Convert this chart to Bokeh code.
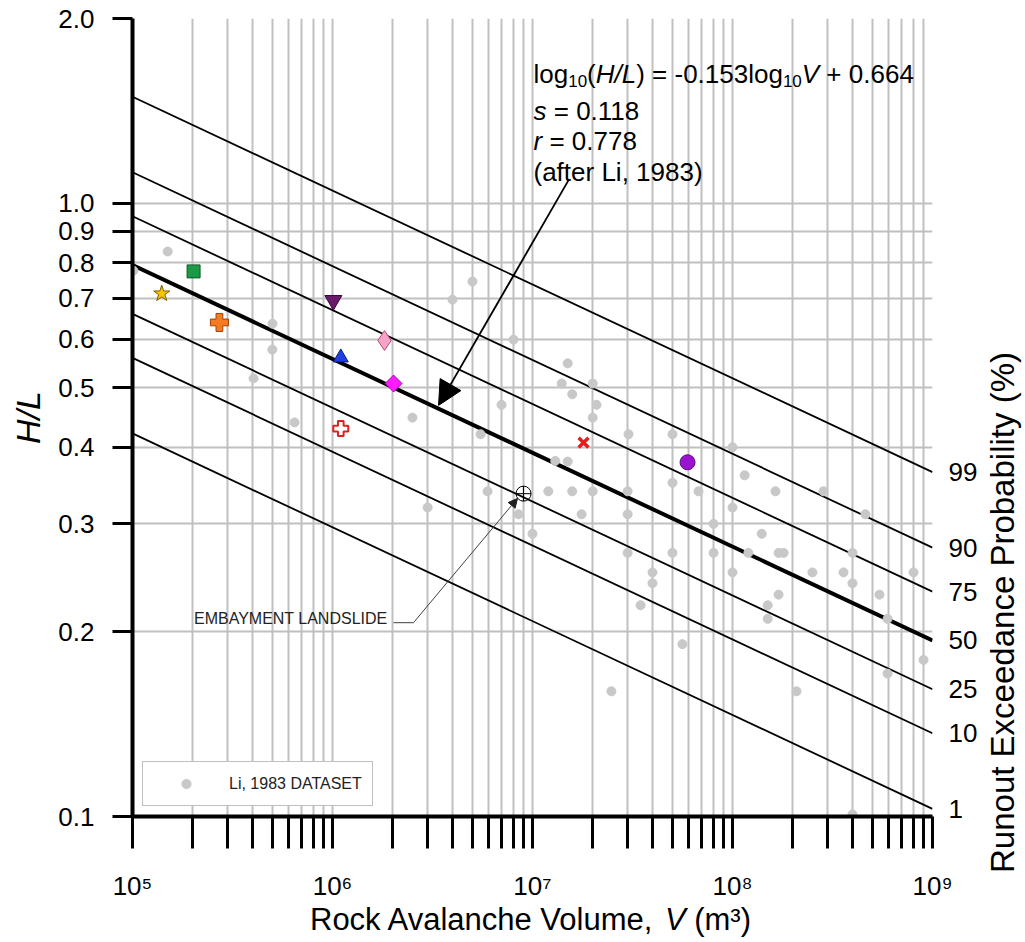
import math
from bokeh.plotting import figure
from bokeh.layouts import row, column
from bokeh.models import (Range1d, FixedTicker, LogAxis, PrintfTickFormatter,
                          CustomJSTickFormatter, Label, Arrow, NormalHead)
from bokeh.embed import file_html
from bokeh.resources import INLINE

FONT = "Liberation Sans"

# ---------------- data ----------------
# Regression line (after Li, 1983): log10(H/L) = SLOPE*log10(V) + INTERCEPT, s = STD_ERR
SLOPE = -0.153
INTERCEPT = 0.664
STD_ERR = 0.118
EXCEEDANCE_LABELS = ["99", "90", "75", "50", "25", "10", "1"]
Z_SCORES = [2.326, 1.282, 0.674, 0.0, -0.674, -1.282, -2.326]
V_LIMITS = [1e5, 1e9]

# Li (1983) dataset
LI_V = [1.01e5, 1.50e5, 5.01e5, 5.0e5, 4.03e5, 6.46e5, 2.51e6, 3.98e6, 5.01e6, 8.04e6,
        1.50e7, 1.40e7, 2.0e7, 1.58e7, 2.09e7, 7.0e6, 2.0e7, 5.50e6, 3.02e7, 5.01e7,
        1.30e7, 1.50e7, 5.01e7, 5.96e6, 1.20e7, 1.58e7, 2.0e7, 2.99e7, 6.76e7, 2.99e6,
        8.51e6, 1.76e7, 2.99e7, 1.64e8, 2.85e8, 1.0e8, 4.62e8, 1.0e7, 8.04e7, 1.40e8,
        2.99e7, 5.01e7, 8.04e7, 1.20e8, 1.70e8, 1.80e8, 3.98e8, 3.98e7, 1.0e8, 2.51e8,
        3.59e8, 8.04e8, 3.98e7, 3.98e8, 1.70e8, 5.43e8, 3.47e7, 1.50e8, 1.50e8, 5.96e8,
        5.62e7, 9.02e8, 5.96e8, 2.48e7, 2.09e8, 3.98e8, 1.0e8, 1.15e8]
LI_HL = [0.776, 0.834, 0.636, 0.577, 0.518, 0.439, 0.447, 0.696, 0.745, 0.599,
         0.548, 0.508, 0.508, 0.488, 0.469, 0.469, 0.447, 0.420, 0.420, 0.420,
         0.380, 0.379, 0.350, 0.339, 0.339, 0.339, 0.339, 0.339, 0.339, 0.319,
         0.311, 0.311, 0.311, 0.339, 0.339, 0.319, 0.311, 0.289, 0.300, 0.289,
         0.269, 0.269, 0.269, 0.269, 0.269, 0.269, 0.269, 0.250, 0.250, 0.250,
         0.250, 0.250, 0.240, 0.240, 0.230, 0.230, 0.221, 0.221, 0.210, 0.210,
         0.191, 0.180, 0.171, 0.160, 0.160, 0.1008, 0.400, 0.360]

# Individual case histories
CASE_IDS = ["star", "green", "orange", "purple_tri", "blue_tri", "pink", "magenta",
            "red_plus", "red_x", "purple_dot", "embayment"]
CASE_V = [1.40e5, 2.02e5, 2.72e5, 1.01e6, 1.10e6, 1.82e6, 2.02e6, 1.10e6, 1.80e7, 5.96e7, 9.02e6]
CASE_HL = [0.712, 0.774, 0.639, 0.694, 0.560, 0.597, 0.508, 0.429, 0.407, 0.378, 0.336]

X_TICKS = [1e5, 1e6, 1e7, 1e8, 1e9]
X_TICK_LABELS = ["10\u2075", "10\u2076", "10\u2077", "10\u2078", "10\u2079"]
X_MINOR = [m * 10 ** k for k in range(5, 9) for m in range(2, 10)]
Y_TICKS = [0.1, 0.2, 0.3, 0.4, 0.5, 0.6, 0.7, 0.8, 0.9, 1.0, 2.0]

# ---------------- styles ----------------
CASE_STYLE = {
    "star": dict(marker="star", size=17, fill_color="#f7c600", line_color="#7a5c00"),
    "green": dict(marker="square", size=13, fill_color="#1a9a46", line_color="#0b5a28"),
    "orange": dict(marker="plus", size=18, fill_color="#f47b20", line_color="#a0400a"),
    "purple_tri": dict(marker="inverted_triangle", size=17, fill_color="#6b1a6b", line_color="#3a003a"),
    "blue_tri": dict(marker="triangle", size=15, fill_color="#1f3fe0", line_color="#0a1a80"),
    "pink": dict(marker="diamond", size=20, fill_color="#f5a3c7", line_color="#b0507a"),
    "magenta": dict(marker="square", size=12, angle=math.pi / 4, fill_color="#ff1aff", line_color="#b000b0"),
    "red_plus": dict(marker="plus", size=15, fill_color="white", line_color="#e02020", line_width=2),
    "red_x": dict(marker="x", size=14, line_color="#e02020", line_width=3.5),
    "purple_dot": dict(marker="circle", size=15, fill_color="#9a14d0", line_color="#5a0a80"),
    "embayment": dict(marker="circle_cross", size=15, fill_color=None, line_color="black", line_width=1),
}

TOTAL_W, TOTAL_H = 1022, 940
TOP, LEFT, RIGHT, BOTTOM = 18, 132, 48, 86
FW, FH = 800, 798
P_W = LEFT + FW + RIGHT
P_H = TOP + FH + BOTTOM

p = figure(frame_width=FW, frame_height=FH, x_axis_type="log", y_axis_type="log",
           x_range=Range1d(1e5, 1e9), y_range=Range1d(0.1, 2.0),
           output_backend="svg", toolbar_location=None,
           min_border_left=LEFT, min_border_right=RIGHT, min_border_top=TOP, min_border_bottom=BOTTOM)
p.outline_line_color = None
p.background_fill_color = "white"

# axes
xa = p.xaxis[0]
xa.ticker = FixedTicker(ticks=X_TICKS, minor_ticks=X_MINOR)
xa.formatter = CustomJSTickFormatter(
    args=dict(vals=X_TICKS, labels=X_TICK_LABELS),
    code="let b=0; for (let i=0;i<vals.length;i++){ if (Math.abs(Math.log10(vals[i]/tick))<1e-6) b=i; } return labels[b];")
xa.axis_line_width = 4
xa.major_tick_out = 32
xa.major_tick_in = 0
xa.minor_tick_out = 32
xa.minor_tick_in = 0
xa.major_tick_line_width = 3
xa.minor_tick_line_width = 3
xa.major_label_standoff = 22
xa.major_label_text_font = FONT
xa.major_label_text_font_size = "26px"
xa.major_label_text_color = "black"

ya = p.yaxis[0]
ya.ticker = FixedTicker(ticks=Y_TICKS)
ya.formatter = PrintfTickFormatter(format="%.1f")
ya.axis_line_width = 4
ya.major_tick_out = 20
ya.major_tick_in = 0
ya.minor_tick_out = 0
ya.minor_tick_in = 0
ya.major_tick_line_width = 3
ya.major_label_standoff = 18
ya.major_label_text_font = FONT
ya.major_label_text_font_size = "26px"
ya.major_label_text_color = "black"
ya.axis_label = "H/L"
ya.axis_label_text_font = FONT
ya.axis_label_text_font_size = "34px"
ya.axis_label_text_font_style = "italic"
ya.axis_label_text_color = "black"
ya.axis_label_standoff = 8

# grid
p.xgrid.grid_line_color = "#c0c0c0"
p.xgrid.grid_line_width = 2
p.xgrid.minor_grid_line_color = "#c0c0c0"
p.xgrid.minor_grid_line_width = 2
p.ygrid.grid_line_color = "#c0c0c0"
p.ygrid.grid_line_width = 2

# probability lines
right_vals = []
for z, lab in zip(Z_SCORES, EXCEEDANCE_LABELS):
    ys = [10 ** (INTERCEPT + SLOPE * math.log10(v) + STD_ERR * z) for v in V_LIMITS]
    p.line(V_LIMITS, ys, line_color="black", line_width=4 if z == 0 else 1.8)
    right_vals.append((ys[1], lab))
right_vals.sort()
RIGHT_TICKS = [v for v, _ in right_vals]
RIGHT_LABELS = [l for _, l in right_vals]

ra = LogAxis(ticker=FixedTicker(ticks=RIGHT_TICKS),
             formatter=CustomJSTickFormatter(
                 args=dict(vals=RIGHT_TICKS, labels=RIGHT_LABELS),
                 code="let b=0, d=1e9; for (let i=0;i<vals.length;i++){ const e=Math.abs(vals[i]-tick); if (e<d){d=e;b=i;} } return labels[b];"))
ra.axis_line_color = None
ra.major_tick_line_color = None
ra.minor_tick_line_color = None
ra.major_label_standoff = 10
ra.major_label_text_font = FONT
ra.major_label_text_font_size = "26px"
ra.major_label_text_color = "black"
p.add_layout(ra, "right")

# Li dataset
p.scatter(LI_V, LI_HL, marker="circle", size=9, fill_color="#c8c8c8", line_color="#c8c8c8",
          legend_label="Li, 1983 DATASET")

# case histories
for cid, v, hl in zip(CASE_IDS, CASE_V, CASE_HL):
    p.scatter([v], [hl], **CASE_STYLE[cid])

# legend
lg = p.legend[0]
lg.location = (10, 10)
lg.margin = 0
lg.padding = 10
lg.glyph_width = 66
lg.glyph_height = 23
lg.label_standoff = 10
lg.label_text_font = FONT
lg.label_text_font_size = "16px"
lg.label_text_color = "#222222"
lg.border_line_color = "#7f7f7f"
lg.border_line_width = 1
lg.background_fill_alpha = 1.0

# arrows
p.add_layout(Arrow(end=NormalHead(size=24, fill_color="black", line_color="black"),
                   x_start=1.51e7, y_start=1.088, x_end=3.39e6, y_end=0.468,
                   line_color="black", line_width=1.8))
p.add_layout(Arrow(end=None, x_start=2.02e6, y_start=0.207, x_end=2.54e6, y_end=0.207,
                   line_color="#404040", line_width=1))
p.add_layout(Arrow(end=NormalHead(size=9, fill_color="#202020", line_color="#202020"),
                   x_start=2.54e6, y_start=0.207, x_end=8.41e6, y_end=0.330,
                   line_color="#404040", line_width=1))

# text helpers (Arial / Liberation Sans advance widths, 1/1000 em)
W = {'l': 222, 'o': 556, 'g': 556, '1': 556, '0': 556, '(': 333, ')': 333, ' ': 278, '=': 584,
     '-': 333, '.': 278, '5': 556, '3': 556, '+': 584, '6': 556, '4': 556, '8': 556, '7': 556,
     'a': 556, 'f': 278, 't': 278, 'e': 556, 'r': 333, 'L': 556, 'i': 222, ',': 278, '9': 556,
     's': 500, 'H': 722, '/': 278, 'V': 667, 'R': 722, 'c': 500, 'k': 500, 'A': 667, 'v': 500,
     'n': 556, 'h': 556, 'u': 556, 'm': 833, '\u00b3': 333}


def tw(s, size):
    return sum(W.get(ch, 556) for ch in s) * size / 1000.0


def add_run(fig, pieces, x0, y0):
    x = x0
    for txt, size, style, dy in pieces:
        stripped = txt.lstrip(" ")
        lead = tw(txt[:len(txt) - len(stripped)], size)
        fig.add_layout(Label(x=x + lead, y=y0 + dy, x_units="screen", y_units="screen",
                             text=stripped.rstrip(" "), text_font=FONT, text_font_size=f"{size}px",
                             text_font_style=style, text_align="left", text_baseline="middle",
                             text_color="black"))
        x += tw(txt, size)


EQ, SUB = 26, 17
EX = 401
add_run(p, [("log", EQ, "normal", 0), ("10", SUB, "normal", -7), ("(", EQ, "normal", 0),
            ("H/L", EQ, "italic", 0), (") = -0.153log", EQ, "normal", 0), ("10", SUB, "normal", -7),
            ("V", EQ, "italic", 0), (" + 0.664", EQ, "normal", 0)], EX, 743)
add_run(p, [("s", EQ, "italic", 0), (" = 0.118", EQ, "normal", 0)], EX, 706)
add_run(p, [("r", EQ, "italic", 0), (" = 0.778", EQ, "normal", 0)], EX, 676)
add_run(p, [("(after Li, 1983)", EQ, "normal", 0)], EX, 645)

# embayment note
p.add_layout(Label(x=255, y=198, x_units="screen", y_units="screen", text="EMBAYMENT LANDSLIDE",
                   text_font=FONT, text_font_size="16px", text_align="right", text_baseline="middle",
                   text_color="#222222"))


def blank_fig(w, h):
    f = figure(width=w, height=h, frame_width=w, frame_height=h,
               x_range=Range1d(0, 1), y_range=Range1d(0, 1),
               x_axis_location=None, y_axis_location=None,
               output_backend="svg", toolbar_location=None, min_border=0)
    f.grid.visible = False
    f.outline_line_color = None
    f.background_fill_color = "white"
    f.border_fill_color = "white"
    return f


# x axis title strip (below the plot; its frame lines up with the main frame)
BOT_H = TOTAL_H - P_H
bottom = blank_fig(P_W, BOT_H)
XT = 31
xt_pieces = [("Rock Avalanche Volume, ", XT, "normal", 0), ("V", XT, "italic", 0), (" (m\u00b3)", XT, "normal", 0)]
total = sum(tw(t, s) for t, s, _, _ in xt_pieces)
add_run(bottom, xt_pieces, 530 - total / 2 - LEFT, TOTAL_H - 918)

# right axis title strip
SIDE_W = TOTAL_W - P_W
side = blank_fig(SIDE_W, TOTAL_H)
side.add_layout(Label(x=22, y=TOTAL_H - 612, x_units="screen", y_units="screen",
                      text="Runout Exceedance Probability (%)",
                      text_font=FONT, text_font_size="33px",
                      angle=math.pi / 2, text_align="center", text_baseline="middle", text_color="black"))

layout = row(column(p, bottom, spacing=0), side, spacing=0)
open("out.html", "w").write(file_html(layout, INLINE))
